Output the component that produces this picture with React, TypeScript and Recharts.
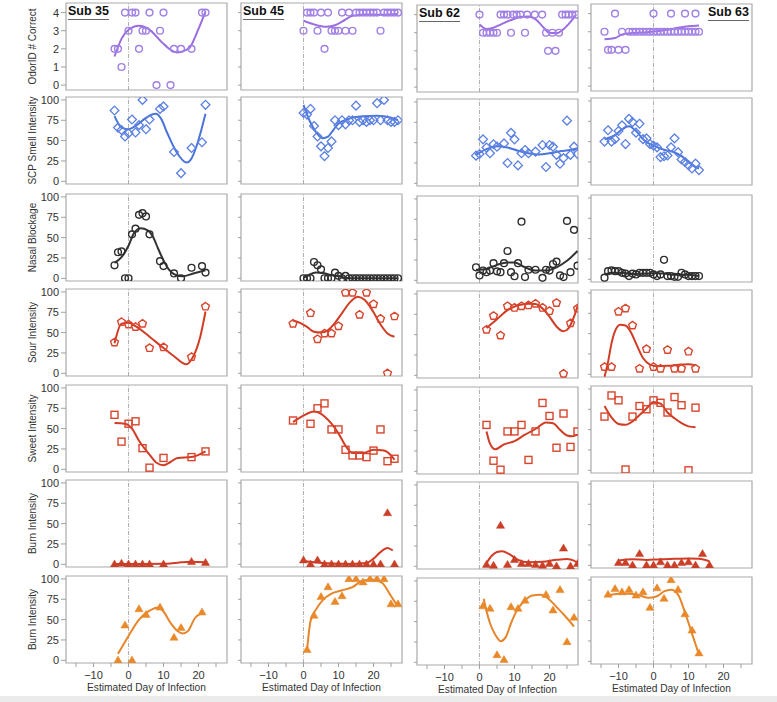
import React from 'react';
import { ComposedChart, Scatter, Line, XAxis, YAxis, ReferenceLine, ReferenceArea } from 'recharts';

type P = [number, number];

// ---------------- Sub 35 ----------------
const S35_ODOR: P[] = [[-4,2],[-3,2],[-2,1],[-1,4],[0,3],[1,4],[2,4],[3,2],[4,3],[5,3],[6,4],[8,0],[9,3],[10,4],[12,0],[13,2],[15,2],[18,2],[21,4],[22,4]];
const S35_ODOR_FIT: P[] = [[-4,1.58],[-2,2.55],[0,3.05],[3,3.28],[5.7,3.1],[9.5,2.37],[12,1.95],[14,1.8],[16,1.9],[17.6,2.1],[20,3.1],[22,4.05]];
const S35_SCP: P[] = [[-4,87],[-3,66],[-2,63],[-1,55],[0,59],[1,76],[2,60],[3,69],[4,100],[5,64],[6,76],[9,89],[10,92],[13,36],[15,10],[18,41],[21,48],[22,94]];
const S35_SCP_FIT: P[] = [[-4,80],[-2,66],[0,64],[2,68],[5,78],[7.7,83],[9.3,77],[11,60],[13.7,36],[16.6,23],[18,28],[19.5,44],[22,83]];
const S35_NASAL: P[] = [[-4,16],[-3,32],[-2,33],[-1,0],[0,0],[1,54],[2,61],[3,78],[4,80],[5,76],[6,54],[9,21],[10,15],[13,6],[15,0],[18,13],[21,15],[22,7]];
const S35_NASAL_FIT: P[] = [[-4,19],[-2,26],[0,40],[1.5,55],[3.5,61.5],[5.5,59],[7,51],[8.5,36],[10,22],[11.5,11],[13.5,4],[15.5,2.5],[18.5,6],[22,10]];
const S35_SOUR: P[] = [[-4,38],[-2,63],[0,60],[2,57],[4,61],[6,31],[10,32],[18,20],[22,82]];
const S35_SOUR_FIT: P[] = [[-4,37],[-2,61],[0,62],[2,58],[6,45],[10,31],[13,21],[16.5,11],[18,17],[20.5,45],[22,76]];
const S35_SWEET: P[] = [[-4,67],[-2,34],[0,56],[2,59],[4,26],[6,2],[10,14],[18,15],[22,22]];
const S35_SWEET_FIT: P[] = [[-4,57],[-1,56],[1,50],[3,35],[6,18],[8,8],[10,5],[12,9],[14,14],[18,15],[22,22]];
const S35_BURN: P[] = [[-4,0],[-2,1],[0,0],[2,0],[4,0],[6,0],[10,0],[18,3],[22,2]];
const S35_BURN_FIT: P[] = [[-4,0.5],[4,0.4],[10,0.6],[14,2],[18,3.2],[22,2.5]];
const S35_BURN2: P[] = [[-3,0],[-1,43],[1,0],[3,63],[5,56],[9,65],[13,28],[15,40],[21,59]];
const S35_BURN2_FIT: P[] = [[-3,8],[0,30],[3,50],[6,61],[8.5,65],[10,60],[12,46],[14,36],[15.5,33],[17,36],[19,52],[21,58]];

// ---------------- Sub 45 ----------------
const S45_ODOR: P[] = [[0,3],[1,4],[2,4],[3,4],[4,3],[5,4],[6,2],[7,4],[8,3],[9,3],[10,3],[11,4],[12,3],[13,4],[14,3],[15,4],[16,4],[17,4],[18,4],[19,4],[20,4],[21,4],[22,3],[23,4],[24,4],[25,4],[26,4],[27,4]];
const S45_ODOR_FIT: P[] = [[0,3.55],[3,3.35],[6.5,3.22],[9,3.3],[11,3.5],[14,3.82],[18,3.9],[22,3.88],[27,3.92]];
const S45_SCP: P[] = [[0,84],[1,82],[2,89],[3,68],[4,55],[5,43],[6,31],[7,41],[8,49],[9,75],[10,69],[11,75],[12,70],[13,75],[14,75],[15,93],[16,73],[17,75],[18,73],[19,75],[20,75],[21,96],[22,75],[23,100],[24,75],[25,73],[26,73],[27,75]];
const S45_SCP_FIT: P[] = [[0,94],[1,82],[2.5,68],[4,58],[5.5,53],[7,55],[8.5,63],[10,71],[13,77],[17,80],[21,80.5],[25,78],[27,75]];
const S45_NASAL: P[] = [[0,0],[1,0],[2,0],[3,20],[4,16],[5,11],[6,0],[7,0],[8,0],[9,7],[10,3],[11,0],[12,3],[13,0],[14,0],[15,0],[16,0],[17,0],[18,0],[19,0],[20,0],[21,0],[22,0],[23,0],[24,0],[25,0],[26,0],[27,0]];
const S45_NASAL_FIT: P[] = [[0,0.5],[1.5,4],[3.5,7],[5.5,6.5],[7.5,4.5],[10,2.5],[12.5,0.3],[15,0],[27,0]];
const S45_SOUR: P[] = [[-3,61],[2,74],[4,42],[6,49],[8,49],[10,58],[12,99],[14,99],[16,72],[18,99],[20,85],[22,67],[24,0],[26,70]];
const S45_SOUR_FIT: P[] = [[-3,65],[-1,62],[1,57],[3,51],[5,50],[7,53],[9,62],[11,74],[13,86],[15.5,94],[17.5,90],[20,75],[22,60],[24,49],[26,45]];
const S45_SWEET: P[] = [[-3,60],[2,56],[4,75],[6,81],[8,49],[10,49],[12,24],[14,17],[16,17],[18,15],[20,23],[22,49],[24,10],[26,13]];
const S45_SWEET_FIT: P[] = [[-3,58],[0,66],[3,71],[6,65],[8,56],[10,44],[12,29],[14,20],[17,20],[20,24],[23,23],[25,17],[26,12]];
const S45_BURN: P[] = [[0,5],[2,0],[4,5],[6,0],[8,0],[10,0],[12,0],[14,0],[16,0],[18,0],[20,0],[22,0],[24,63],[26,0]];
const S45_BURN_FIT: P[] = [[0,4],[3,2.5],[8,1],[14,0.5],[18,1.5],[20,7],[22,15],[24,20],[25.5,17]];
const S45_BURN2: P[] = [[1,13],[3,55],[5,78],[7,90],[9,72],[11,79],[13,100],[15,100],[17,96],[19,100],[21,100],[23,100],[25,69],[27,69]];
const S45_BURN2_FIT: P[] = [[1,12],[2,48],[3.5,62],[5.5,74],[8,82],[11,86],[14,90],[17,98],[20,99],[22.5,95],[25,79],[26.5,69]];

// ---------------- Sub 62 ----------------
const S62_ODOR: P[] = [[0,4],[1,3],[2,3],[3,3],[4,3],[5,3],[6,4],[7,4],[8,4],[9,3],[9.6,4],[10.6,4],[11.7,4],[13,3],[13.6,4],[15.8,4],[17.9,4],[19,3],[19.6,2],[20.8,3],[21.7,2],[22.7,3],[23.6,4],[24.6,4],[25.5,4],[26.5,4],[27.6,4]];
const S62_ODOR_FIT: P[] = [[0,3.45],[2,3.2],[4,3.28],[6,3.45],[9,3.7],[12,3.88],[14,3.9],[16,3.75],[18,3.35],[20,3.0],[22,2.98],[24,3.2],[26,3.6],[27.6,4]];
const S62_SCP: P[] = [[-1,34],[0,36],[1,54],[2,44],[3,37],[4,48],[5,45],[7,49],[8,25],[9,62],[10,54],[11,22],[12,37],[13,41],[14,37],[16,39],[18,47],[19,20],[20,47],[21,45],[22,35],[23,24],[24,31],[25,77],[26,35],[27,45],[28,36]];
const S62_SCP_FIT: P[] = [[-1,35],[2,42],[5,45.5],[8,44],[11,40],[14,37],[17,35.5],[20,37],[23,39.5],[26,41],[28,43]];
const S62_NASAL: P[] = [[-1,16],[0,6],[1,12],[2,10],[3,12],[4,21],[5,11],[6,10],[7,21],[8,36],[9,10],[10,5],[11,21],[12,72],[13,4],[14,13],[16,13],[18,3],[19,13],[20,12],[21,20],[22,23],[23,6],[24,4],[25,73],[26,10],[27,62],[28,18]];
const S62_NASAL_FIT: P[] = [[-1,13],[2,14],[5,19],[8,22],[10,22],[12.5,17],[16,12],[19,12],[22,16],[25,24],[28,36]];
const S62_SOUR: P[] = [[2,56],[4,73],[6,49],[8,85],[10,83],[12,85],[14,86],[16,88],[18,83],[20,79],[22,89],[24,2],[26,64],[28,82]];
const S62_SOUR_FIT: P[] = [[2,58],[5,69],[8,80],[11,86],[14,88],[16,87.5],[18,82],[20,72],[22,60],[24,54],[25.5,58],[27,72],[28,85]];
const S62_SWEET: P[] = [[2,57],[4,13],[6,2],[8,49],[10,49],[12,57],[14,14],[16,49],[18,84],[20,68],[22,29],[24,71],[26,30],[28,49]];
const S62_SWEET_FIT: P[] = [[2,49],[3,34],[4.5,27],[7,33],[10,37],[13,45],[16,52],[19,60],[21,59],[23,51],[25,44],[26.5,43],[28,45]];
const S62_BURN: P[] = [[2,2],[4,1],[6,50],[8,2],[10,8],[12,3],[14,3],[16,2],[18,1],[20,3],[22,0],[24,22],[26,0],[28,3]];
const S62_BURN_FIT: P[] = [[2,4],[3.5,13],[5,17.5],[6.5,18.5],[8.5,15],[11,8],[14,5],[18,5.5],[22,8],[25,9],[27,7],[28,4]];
const S62_BURN2: P[] = [[1,69],[3,66],[5,9],[7,3],[9,68],[11,66],[13,76],[19,83],[21,64],[23,89],[25,25],[27,55]];
const S62_BURN2_FIT: P[] = [[1.2,78],[2,63],[3,48],[4.5,34],[6,26],[7.5,31],[9,48],[11,66],[13,76],[15,82],[17.5,83],[20,77],[22,68],[24,59],[27,44]];

// ---------------- Sub 63 ----------------
const S63_ODOR: P[] = [[-14,3],[-13,2],[-12,2],[-11,4],[-10,2],[-9,3],[-8,2],[-7,3],[-6,3],[-5,3],[-4,3],[-3,3],[-2,3],[-1,3],[0,4],[0,3],[1,3],[2,3],[3,3],[4,3],[5,4],[5,3],[6,3],[7,3],[8,3],[9,4],[9,3],[10,3],[11,3],[12,4],[12,3],[13,3]];
const S63_ODOR_FIT: P[] = [[-14,2.58],[-11,2.65],[-9,2.85],[-6,2.93],[-2,2.97],[2,3.05],[6,3.18],[10,3.3],[13,3.35]];
const S63_SCP: P[] = [[-14,50],[-13,64],[-12,50],[-11,53],[-10,63],[-9,70],[-8,47],[-7,78],[-6,74],[-5,61],[-4,72],[-3,53],[-2,54],[-1,47],[0,45],[1,43],[2,31],[3,32],[4,33],[5,43],[6,54],[7,37],[8,28],[9,25],[10,21],[11,17],[12,23],[13,15]];
const S63_SCP_FIT: P[] = [[-14,53],[-11,58],[-9,65],[-7,69],[-5,63],[-2.5,51],[0,45],[3,40],[5.5,37.5],[8,32],[10,25],[12,19],[13,17]];
const S63_NASAL: P[] = [[-14,2],[-13,10],[-12,11],[-11,10],[-10,10],[-9,8],[-8,7],[-7,4],[-6,7],[-5,6],[-4,8],[-3,8],[-2,8],[-1,8],[0,6],[1,4],[2,6],[3,24],[4,4],[5,4],[6,3],[7,3],[8,8],[9,6],[10,4],[11,4],[12,4],[13,4]];
const S63_NASAL_FIT: P[] = [[-14,6],[-12,8],[-9,8],[-6,6.5],[-3,7],[0,7.5],[3,7],[6,5.5],[9,5.5],[13,4]];
const S63_SOUR: P[] = [[-14,9],[-12,9],[-10,77],[-8,81],[-6,60],[-4,7],[-2,31],[0,9],[2,7],[4,30],[6,7],[8,7],[10,28],[12,7]];
const S63_SOUR_FIT: P[] = [[-14,-3],[-13,15],[-12,38],[-11,53],[-9.5,61],[-8,60],[-6.5,52],[-5,38],[-3,20],[-1,12],[1,10],[4,10.5],[8,12],[10,12.5],[12,11]];
const S63_SWEET: P[] = [[-14,66],[-12,92],[-10,86],[-8,1],[-6,66],[-4,79],[-2,75],[0,86],[2,83],[4,71],[6,90],[8,80],[10,0],[12,77]];
const S63_SWEET_FIT: P[] = [[-14,79],[-12,65],[-10,57],[-8,56],[-6,60],[-4,68],[-2,76],[0,84],[2,82],[4,71],[6,64],[8,58],[10,54],[12,53]];
const S63_BURN: P[] = [[-10,3],[-8,3],[-6,0],[-4,14],[-2,0],[0,0],[2,4],[4,0],[6,0],[8,3],[10,4],[12,0],[14,14],[16,0]];
const S63_BURN_FIT: P[] = [[-10,6],[-6,7.5],[-2,6.5],[2,7.5],[6,8],[10,8.5],[13,8],[16,5]];
const S63_BURN2: P[] = [[-13,82],[-11,89],[-9,85],[-7,88],[-5,81],[-3,85],[-1,66],[1,90],[3,77],[5,100],[7,88],[9,58],[11,38],[13,10]];
const S63_BURN2_FIT: P[] = [[-13,81],[-10,83],[-7,83],[-4,81],[-1.5,78],[1,80],[3,86],[5,88],[7,82],[9,60],[11,34],[13,8]];

// ---------------- labels ----------------
const SUBJECTS = ['Sub 35', 'Sub 45', 'Sub 62', 'Sub 63'];
const Y_LABELS = ['OdorID # Correct', 'SCP Smell Intensity', 'Nasal Blockage', 'Sour Intensity', 'Sweet Intensity', 'Burn Intensity', 'Burn Intensity'];
const X_LABEL = 'Estimated Day of Infection';
const X_TICKS = [-15, -10, -5, 0, 5, 10, 15, 20, 25];
const Y_TICKS_ODOR = [0, 1, 2, 3, 4];
const Y_TICKS_PCT = [0, 25, 50, 75, 100];

const GRID: [P[], P[]][][] = [
  [[S35_ODOR, S35_ODOR_FIT], [S35_SCP, S35_SCP_FIT], [S35_NASAL, S35_NASAL_FIT], [S35_SOUR, S35_SOUR_FIT], [S35_SWEET, S35_SWEET_FIT], [S35_BURN, S35_BURN_FIT], [S35_BURN2, S35_BURN2_FIT]],
  [[S45_ODOR, S45_ODOR_FIT], [S45_SCP, S45_SCP_FIT], [S45_NASAL, S45_NASAL_FIT], [S45_SOUR, S45_SOUR_FIT], [S45_SWEET, S45_SWEET_FIT], [S45_BURN, S45_BURN_FIT], [S45_BURN2, S45_BURN2_FIT]],
  [[S62_ODOR, S62_ODOR_FIT], [S62_SCP, S62_SCP_FIT], [S62_NASAL, S62_NASAL_FIT], [S62_SOUR, S62_SOUR_FIT], [S62_SWEET, S62_SWEET_FIT], [S62_BURN, S62_BURN_FIT], [S62_BURN2, S62_BURN2_FIT]],
  [[S63_ODOR, S63_ODOR_FIT], [S63_SCP, S63_SCP_FIT], [S63_NASAL, S63_NASAL_FIT], [S63_SOUR, S63_SOUR_FIT], [S63_SWEET, S63_SWEET_FIT], [S63_BURN, S63_BURN_FIT], [S63_BURN2, S63_BURN2_FIT]],
];

const ROW_STYLE = [
  { kind: 'circle', pt: '#a07fe6', line: '#9a6ee0' },
  { kind: 'diamond', pt: '#5b80e3', line: '#4b74da' },
  { kind: 'circle', pt: '#2e2e2e', line: '#333333' },
  { kind: 'pentagon', pt: '#d8452d', line: '#d13c24' },
  { kind: 'square', pt: '#d8452d', line: '#d13c24' },
  { kind: 'triangle', pt: '#c93f27', line: '#d13c24' },
  { kind: 'triangle', pt: '#e9892a', line: '#e6852a' },
];

// ---------------- layout ----------------
const FONT = '"Liberation Sans", Arial, Helvetica, sans-serif';
const XDOM: [number, number] = [-17.86, 28.14];
const COL_LEFT = [66, 241, 417, 591];
const COL_DY = [0, 0, 2, 1];
const ROW_TOP = [3, 97, 194, 289, 385, 480, 576];
const PW = 161;
const PH = 87;
const YW = 55;
const MT = 6;
const MR = 6;
const XAH = 36;

const makeShape = (kind: string, color: string) => (props: any) => {
  const { cx, cy } = props;
  if (cx == null || cy == null || isNaN(cx) || isNaN(cy)) return <g />;
  if (kind === 'circle') {
    return <circle cx={cx} cy={cy} r={3.4} fill="none" stroke={color} strokeWidth={1.4} />;
  }
  if (kind === 'diamond') {
    const r = 4.4;
    return <polygon points={`${cx},${cy - r} ${cx + r},${cy} ${cx},${cy + r} ${cx - r},${cy}`} fill="none" stroke={color} strokeWidth={1.3} />;
  }
  if (kind === 'square') {
    const h = 3.5;
    return <rect x={cx - h} y={cy - h} width={2 * h} height={2 * h} fill="none" stroke={color} strokeWidth={1.4} />;
  }
  if (kind === 'pentagon') {
    const r = 4.1;
    const pts: string[] = [];
    for (let k = 0; k < 5; k++) {
      const a = (-90 + 72 * k) * Math.PI / 180;
      pts.push(`${cx + r * Math.cos(a)},${cy + r * Math.sin(a)}`);
    }
    return <polygon points={pts.join(' ')} fill="none" stroke={color} strokeWidth={1.4} />;
  }
  return <polygon points={`${cx},${cy - 4.3} ${cx + 4.1},${cy + 2.7} ${cx - 4.1},${cy + 2.7}`} fill={color} stroke={color} strokeWidth={0.5} />;
};

const fmtX = (v: number) => (v % 10 === 0 ? (v < 0 ? '\u2212' + Math.abs(v) : String(v)) : '');

const YTitle = ({ text }: any) => {
  const cx = 21;
  const cy = MT + PH / 2;
  return (
    <text x={cx} y={cy} transform={`rotate(-90, ${cx}, ${cy})`} textAnchor="middle" dominantBaseline="central" fontSize={10} fill="#333" fontFamily={FONT}>
      {text}
    </text>
  );
};

const XTitle = () => (
  <text x={YW + PW / 2} y={MT + PH + 24.5} textAnchor="middle" dominantBaseline="central" fontSize={10.2} fill="#333" fontFamily={FONT}>
    {X_LABEL}
  </text>
);

function Panel({ c, r }: { c: number; r: number }) {
  const [pts, fit] = GRID[c][r];
  const st = ROW_STYLE[r];
  const isBottom = r === 6;
  const isFirst = c === 0;
  const w = YW + PW + MR;
  const h = MT + PH + (isBottom ? XAH : 6);
  const dom: [number, number] = r === 0 ? [-0.27, 4.53] : [-3.3, 103.6];
  const yt = r === 0 ? Y_TICKS_ODOR : Y_TICKS_PCT;
  const ptData = pts.map(([x, y]) => ({ x, y }));
  const fitData = fit.map(([x, y]) => ({ x, y }));
  return (
    <div style={{ position: 'absolute', left: COL_LEFT[c] - YW, top: ROW_TOP[r] + COL_DY[c] - MT }}>
      <ComposedChart width={w} height={h} margin={{ top: MT, right: MR, left: 0, bottom: isBottom ? 0 : 6 }}>
        <XAxis
          type="number"
          dataKey="x"
          domain={XDOM}
          allowDataOverflow
          hide={!isBottom}
          ticks={X_TICKS}
          interval={0}
          tickFormatter={fmtX}
          tickSize={4}
          tickMargin={4}
          tickLine={{ stroke: '#a0a0a0' }}
          axisLine={false}
          height={XAH}
          tick={{ fontSize: 11, fill: '#333', fontFamily: FONT }}
          label={isBottom ? <XTitle /> : undefined}
        />
        <YAxis
          type="number"
          dataKey="y"
          domain={dom}
          allowDataOverflow
          ticks={yt}
          interval={0}
          width={YW}
          tickSize={isFirst ? 5 : 3}
          axisLine={false}
          tickLine={{ stroke: '#a0a0a0' }}
          tick={{ fontSize: 11, fill: '#333', fontFamily: FONT }}
          tickFormatter={isFirst ? (v: number) => String(v) : () => ''}
          label={isFirst ? <YTitle text={Y_LABELS[r]} /> : undefined}
        />
        <ReferenceArea x1={XDOM[0]} x2={XDOM[1]} y1={dom[0]} y2={dom[1]} fill="none" fillOpacity={0} stroke="#aaaaaa" strokeWidth={1.2} ifOverflow="visible" />
        <ReferenceLine x={0} stroke="#9a9a9a" strokeWidth={0.8} strokeDasharray="4 1.5 1 1.5" />
        <Scatter data={ptData} dataKey="y" shape={makeShape(st.kind, st.pt)} isAnimationActive={false} />
        <Line data={fitData} dataKey="y" type="monotone" stroke={st.line} strokeWidth={2} dot={false} activeDot={false} isAnimationActive={false} />
      </ComposedChart>
    </div>
  );
}

export default function App() {
  const cells: React.ReactNode[] = [];
  for (let c = 0; c < 4; c++) {
    for (let r = 0; r < 7; r++) {
      cells.push(<Panel key={`${c}-${r}`} c={c} r={r} />);
    }
  }
  return (
    <div style={{ position: 'absolute', left: 0, top: 0, width: 777, height: 702, background: '#fff', overflow: 'hidden', fontFamily: FONT }}>
      {cells}
      {SUBJECTS.map((s, c) => {
        const right = c === 3;
        return (
          <div
            key={s}
            style={{
              position: 'absolute',
              top: 5 + COL_DY[c],
              left: right ? undefined : COL_LEFT[c] + 2,
              right: right ? 777 - (COL_LEFT[c] + PW - 3) : undefined,
              fontSize: 12.5,
              fontWeight: 'bold',
              lineHeight: '12px',
              color: '#111',
              borderBottom: '1.6px solid #666',
              paddingBottom: 1.5,
              fontFamily: FONT,
            }}
          >
            {s}
          </div>
        );
      })}
      <div style={{ position: 'absolute', left: 0, top: 696, width: 777, height: 6, background: '#ebebeb' }} />
    </div>
  );
}
